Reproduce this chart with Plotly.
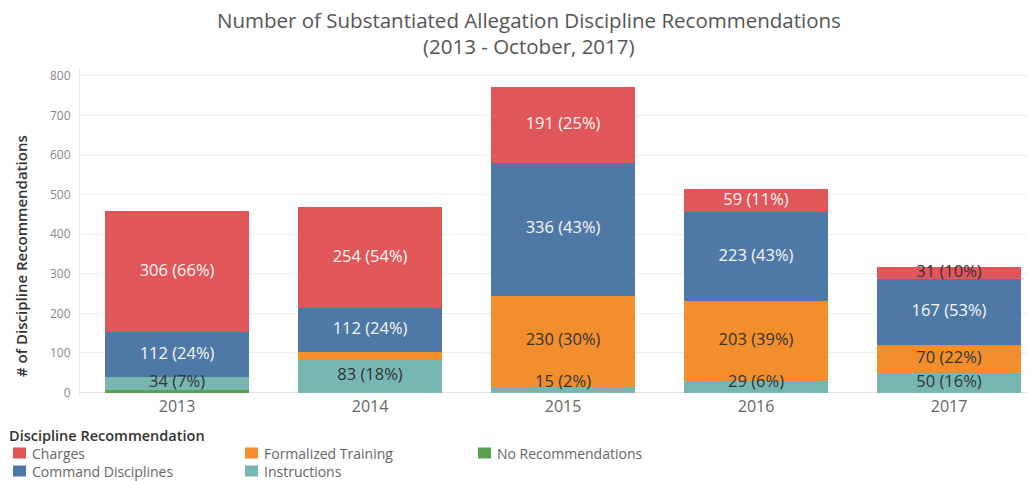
import plotly.graph_objects as go

years = ["2013", "2014", "2015", "2016", "2017"]

# stacked from bottom to top
no_recommendations = [6, 0, 0, 0, 0]
instructions = [34, 83, 15, 29, 50]
formalized_training = [0, 19, 230, 203, 70]
command_disciplines = [112, 112, 336, 223, 167]
charges = [306, 254, 191, 59, 31]

# percentage labels as printed on the chart (None = not shown)
pct_instructions = [7, 18, 2, 6, 16]
pct_formalized = [None, None, 30, 39, 22]
pct_command = [24, 24, 43, 43, 53]
pct_charges = [66, 54, 25, 11, 10]
pct_no_recommendations = [None, None, None, None, None]

series_names = ["No Recommendations", "Instructions", "Formalized Training",
                "Command Disciplines", "Charges"]
series_values = [no_recommendations, instructions, formalized_training,
                 command_disciplines, charges]
series_pcts = [pct_no_recommendations, pct_instructions, pct_formalized,
               pct_command, pct_charges]
series_colors = ["#59A14F", "#76B7B2", "#F28E2B", "#4E79A7", "#E15759"]

DARK = "#333333"
LIGHT = "#f7f7f7"
label_colors = {
    "No Recommendations": [DARK] * 5,
    "Instructions": [DARK] * 5,
    "Formalized Training": [DARK] * 5,
    "Command Disciplines": [LIGHT] * 5,
    "Charges": [LIGHT, LIGHT, LIGHT, LIGHT, DARK],
}
LABEL_MIN_Y = 24  # labels of thin bottom segments are kept above the axis

FONT = "Open Sans"
fig = go.Figure()
base = [0] * len(years)
lab_x, lab_y, lab_t, lab_c = [], [], [], []
for name, vals, pcts, col in zip(series_names, series_values, series_pcts, series_colors):
    fig.add_trace(go.Bar(
        name=name, x=years, y=vals, marker=dict(color=col, line=dict(width=0)),
        width=0.746, showlegend=False, hoverinfo="x+y+name",
    ))
    for i, v in enumerate(vals):
        if pcts[i] is not None:
            lab_x.append(years[i])
            lab_y.append(max(base[i] + v / 2, LABEL_MIN_Y))
            lab_t.append(f"{v} ({pcts[i]}%)")
            lab_c.append(label_colors[name][i])
        base[i] += v

fig.add_trace(go.Scatter(
    x=lab_x, y=lab_y, text=lab_t, mode="text", textposition="middle center",
    textfont=dict(family=FONT, size=16.5, color=lab_c), showlegend=False,
    hoverinfo="skip", cliponaxis=False,
))

# plot area in pixels
W, H = 1029, 481
L, R, T, B = 80, 1027, 68, 395


def px_x(p):
    return (p - L) / (R - L)


def px_y(p):
    return (B - p) / (B - T)


fig.update_layout(
    width=W, height=H,
    margin=dict(l=L, r=W - R, t=T, b=H - B),
    barmode="stack",
    paper_bgcolor="white", plot_bgcolor="white",
    font=dict(family=FONT, color="#555"),
    xaxis=dict(
        type="category", range=[-0.503, 4.404],
        tickfont=dict(family=FONT, size=16, color="#666"),
        showgrid=False, showline=False, ticks="",
    ),
    yaxis=dict(
        range=[-6.3, 820], tickvals=[0, 100, 200, 300, 400, 500, 600, 700, 800],
        tickfont=dict(family=FONT, size=12, color="#888"),
        showgrid=True, gridcolor="#efefef", gridwidth=1,
        zeroline=True, zerolinecolor="#e2e2e2", zerolinewidth=1,
        showline=True, linecolor="#e8e8e8", ticks="", ticklabelstandoff=6,
    ),
    showlegend=False,
)

# title
for txt, yc in [("Number of Substantiated Allegation Discipline Recommendations", 20),
                ("(2013 - October, 2017)", 46)]:
    fig.add_annotation(text=txt, xref="paper", yref="paper",
                       x=px_x(529), y=px_y(yc), xanchor="center", yanchor="middle",
                       showarrow=False, font=dict(family=FONT, size=20.5, color="#555"))

# y axis title
fig.add_annotation(
    text="# of Discipline Recommendations", textangle=-90,
    xref="paper", yref="paper", x=px_x(21), y=px_y(256),
    xanchor="center", yanchor="middle", showarrow=False,
    font=dict(family=FONT, size=15, color="#333", weight=600),
)

# legend (built from series names / colors)
fig.add_annotation(
    text="Discipline Recommendation", xref="paper", yref="paper",
    x=px_x(8), y=px_y(435), xanchor="left", yanchor="middle", showarrow=False,
    font=dict(family=FONT, size=14.5, color="#333", weight=600), borderpad=0,
)
legend_order = ["Charges", "Formalized Training", "No Recommendations",
                "Command Disciplines", "Instructions"]
col_x = [13, 245, 478]
row_y = [453, 471]
for k, name in enumerate(legend_order):
    c, r = k % 3, k // 3
    col = series_colors[series_names.index(name)]
    x0, yc = col_x[c], row_y[r]
    fig.add_shape(type="rect", xref="paper", yref="paper",
                  x0=px_x(x0), x1=px_x(x0 + 13), y0=px_y(yc + 5.5), y1=px_y(yc - 5.5),
                  fillcolor=col, line=dict(width=0))
    fig.add_annotation(text=name, xref="paper", yref="paper",
                       x=px_x(x0 + 18), y=px_y(yc), xanchor="left", yanchor="middle",
                       showarrow=False, borderpad=0,
                       font=dict(family=FONT, size=14, color="#666"))

fig.write_html("out.html")
